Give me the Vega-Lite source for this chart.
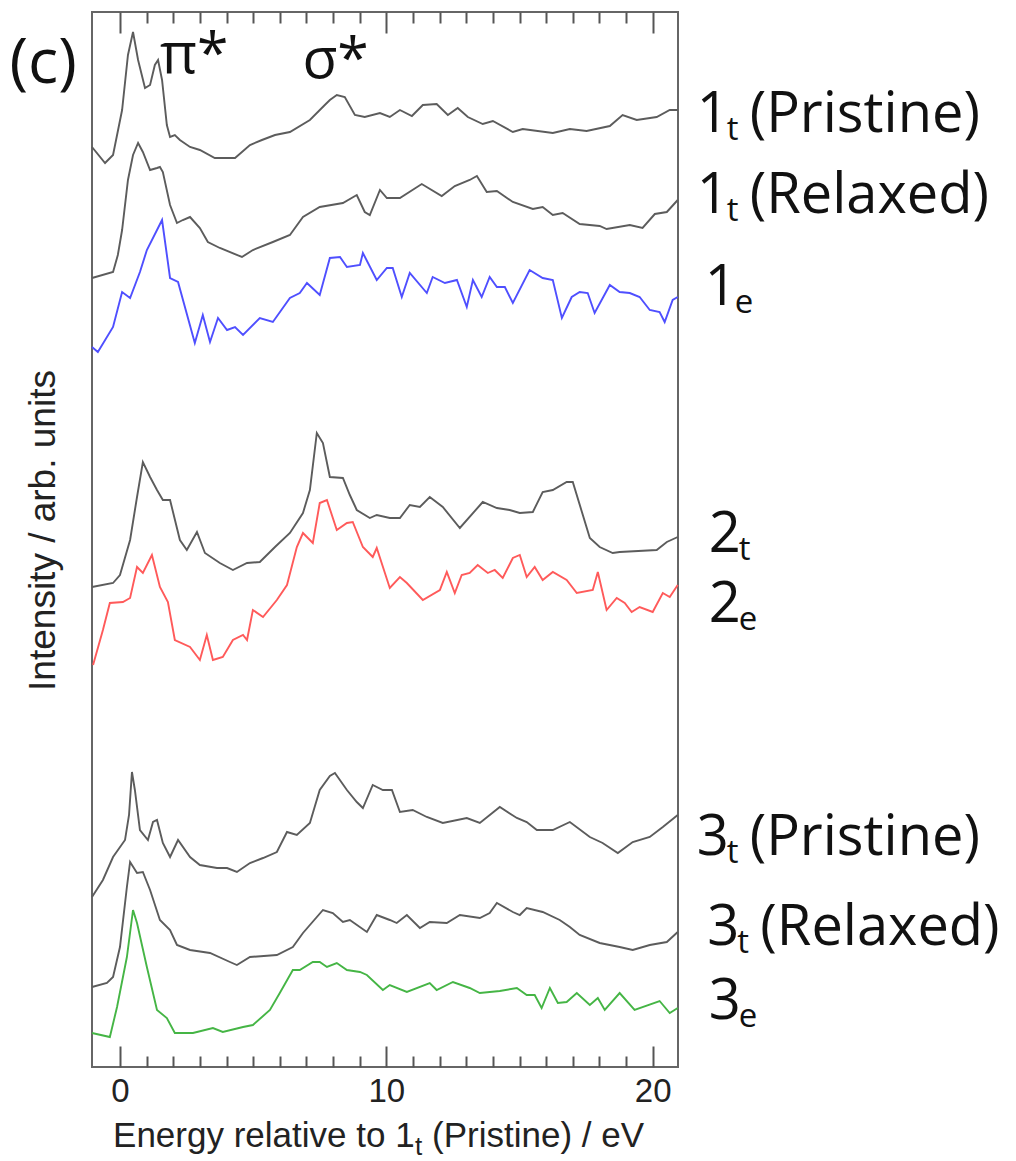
{
  "$schema": "https://vega.github.io/schema/vega-lite/v6.json",
  "width": 586,
  "height": 1055,
  "autosize": "none",
  "padding": {"left": 92, "top": 12, "right": 338, "bottom": 94},
  "background": "white",
  "config": {"view": {"stroke": "#666666", "strokeWidth": 2}, "font": "Liberation Sans"},
  "datasets": {
    "spectra": [
      {"s":"a","E":-1.05,"I":920},{"s":"a","E":-0.56,"I":904},{"s":"a","E":-0.26,"I":912},{"s":"a","E":0.08,"I":957},{"s":"a","E":0.30,"I":1012},{"s":"a","E":0.49,"I":1035},{"s":"a","E":0.68,"I":1007},{"s":"a","E":0.94,"I":979},{"s":"a","E":1.13,"I":982},{"s":"a","E":1.31,"I":1002},{"s":"a","E":1.43,"I":1007},{"s":"a","E":1.58,"I":987},{"s":"a","E":1.76,"I":942},{"s":"a","E":1.88,"I":930},{"s":"a","E":2.06,"I":932},{"s":"a","E":2.25,"I":927},{"s":"a","E":2.63,"I":920},{"s":"a","E":3.00,"I":917},{"s":"a","E":3.56,"I":909},{"s":"a","E":4.32,"I":909},{"s":"a","E":4.88,"I":922},{"s":"a","E":5.33,"I":927},{"s":"a","E":5.82,"I":932},{"s":"a","E":6.38,"I":935},{"s":"a","E":7.13,"I":947},{"s":"a","E":7.69,"I":962},{"s":"a","E":7.88,"I":967},{"s":"a","E":8.14,"I":972},{"s":"a","E":8.44,"I":970},{"s":"a","E":8.82,"I":952},{"s":"a","E":9.19,"I":950},{"s":"a","E":9.76,"I":954},{"s":"a","E":10.13,"I":950},{"s":"a","E":10.51,"I":957},{"s":"a","E":10.96,"I":951},{"s":"a","E":11.37,"I":962},{"s":"a","E":11.89,"I":963},{"s":"a","E":12.31,"I":952},{"s":"a","E":12.68,"I":959},{"s":"a","E":13.06,"I":950},{"s":"a","E":13.62,"I":943},{"s":"a","E":14.00,"I":946},{"s":"a","E":14.75,"I":935},{"s":"a","E":15.12,"I":938},{"s":"a","E":16.25,"I":934},{"s":"a","E":16.89,"I":938},{"s":"a","E":17.52,"I":936},{"s":"a","E":18.39,"I":941},{"s":"a","E":18.87,"I":952},{"s":"a","E":19.40,"I":947},{"s":"a","E":20.15,"I":950},{"s":"a","E":20.64,"I":957},{"s":"a","E":20.94,"I":957},
      {"s":"b","E":-1.05,"I":789},{"s":"b","E":-0.26,"I":795},{"s":"b","E":-0.08,"I":812},{"s":"b","E":0.08,"I":837},{"s":"b","E":0.30,"I":887},{"s":"b","E":0.49,"I":912},{"s":"b","E":0.68,"I":924},{"s":"b","E":0.86,"I":915},{"s":"b","E":1.13,"I":897},{"s":"b","E":1.39,"I":899},{"s":"b","E":1.50,"I":900},{"s":"b","E":1.61,"I":895},{"s":"b","E":1.88,"I":862},{"s":"b","E":2.14,"I":844},{"s":"b","E":2.36,"I":847},{"s":"b","E":2.63,"I":850},{"s":"b","E":3.00,"I":839},{"s":"b","E":3.30,"I":825},{"s":"b","E":3.75,"I":819},{"s":"b","E":4.58,"I":810},{"s":"b","E":4.99,"I":817},{"s":"b","E":5.74,"I":825},{"s":"b","E":6.38,"I":832},{"s":"b","E":6.87,"I":850},{"s":"b","E":7.50,"I":860},{"s":"b","E":8.37,"I":864},{"s":"b","E":8.89,"I":872},{"s":"b","E":9.19,"I":855},{"s":"b","E":9.38,"I":852},{"s":"b","E":9.76,"I":877},{"s":"b","E":10.02,"I":869},{"s":"b","E":10.51,"I":869},{"s":"b","E":11.33,"I":883},{"s":"b","E":12.08,"I":871},{"s":"b","E":12.57,"I":881},{"s":"b","E":13.13,"I":887},{"s":"b","E":13.40,"I":891},{"s":"b","E":13.77,"I":875},{"s":"b","E":14.15,"I":876},{"s":"b","E":14.75,"I":865},{"s":"b","E":15.50,"I":858},{"s":"b","E":15.87,"I":860},{"s":"b","E":16.25,"I":852},{"s":"b","E":16.62,"I":854},{"s":"b","E":17.26,"I":843},{"s":"b","E":18.01,"I":841},{"s":"b","E":18.27,"I":838},{"s":"b","E":19.14,"I":842},{"s":"b","E":19.62,"I":839},{"s":"b","E":20.08,"I":853},{"s":"b","E":20.53,"I":855},{"s":"b","E":20.94,"I":867},
      {"s":"c","E":-1.05,"I":720},{"s":"c","E":-0.83,"I":715},{"s":"c","E":-0.26,"I":740},{"s":"c","E":0.08,"I":775},{"s":"c","E":0.38,"I":769},{"s":"c","E":0.75,"I":795},{"s":"c","E":1.01,"I":817},{"s":"c","E":1.58,"I":847},{"s":"c","E":1.88,"I":789},{"s":"c","E":2.18,"I":785},{"s":"c","E":2.81,"I":724},{"s":"c","E":3.11,"I":752},{"s":"c","E":3.38,"I":725},{"s":"c","E":3.68,"I":749},{"s":"c","E":4.02,"I":737},{"s":"c","E":4.32,"I":740},{"s":"c","E":4.62,"I":732},{"s":"c","E":5.25,"I":749},{"s":"c","E":5.74,"I":745},{"s":"c","E":6.38,"I":769},{"s":"c","E":6.75,"I":774},{"s":"c","E":7.02,"I":784},{"s":"c","E":7.50,"I":772},{"s":"c","E":7.88,"I":809},{"s":"c","E":8.26,"I":810},{"s":"c","E":8.52,"I":800},{"s":"c","E":9.01,"I":802},{"s":"c","E":9.12,"I":814},{"s":"c","E":9.64,"I":787},{"s":"c","E":10.02,"I":799},{"s":"c","E":10.24,"I":799},{"s":"c","E":10.58,"I":770},{"s":"c","E":10.88,"I":794},{"s":"c","E":11.52,"I":774},{"s":"c","E":11.74,"I":790},{"s":"c","E":12.20,"I":784},{"s":"c","E":12.65,"I":787},{"s":"c","E":13.02,"I":760},{"s":"c","E":13.25,"I":787},{"s":"c","E":13.58,"I":770},{"s":"c","E":13.88,"I":790},{"s":"c","E":14.15,"I":780},{"s":"c","E":14.45,"I":780},{"s":"c","E":14.75,"I":764},{"s":"c","E":15.38,"I":797},{"s":"c","E":15.87,"I":789},{"s":"c","E":16.25,"I":787},{"s":"c","E":16.59,"I":749},{"s":"c","E":16.96,"I":770},{"s":"c","E":17.26,"I":775},{"s":"c","E":17.56,"I":774},{"s":"c","E":17.82,"I":754},{"s":"c","E":18.39,"I":782},{"s":"c","E":18.76,"I":775},{"s":"c","E":19.14,"I":774},{"s":"c","E":19.51,"I":770},{"s":"c","E":19.89,"I":757},{"s":"c","E":20.26,"I":755},{"s":"c","E":20.45,"I":745},{"s":"c","E":20.75,"I":767},{"s":"c","E":20.94,"I":770},
      {"s":"d","E":-1.05,"I":480},{"s":"d","E":-0.26,"I":484},{"s":"d","E":0,"I":492},{"s":"d","E":0.38,"I":527},{"s":"d","E":0.64,"I":570},{"s":"d","E":0.86,"I":605},{"s":"d","E":1.13,"I":590},{"s":"d","E":1.39,"I":577},{"s":"d","E":1.61,"I":567},{"s":"d","E":1.88,"I":567},{"s":"d","E":2.25,"I":527},{"s":"d","E":2.51,"I":517},{"s":"d","E":2.89,"I":535},{"s":"d","E":3.19,"I":514},{"s":"d","E":3.75,"I":504},{"s":"d","E":4.24,"I":497},{"s":"d","E":4.77,"I":504},{"s":"d","E":5.25,"I":505},{"s":"d","E":5.82,"I":520},{"s":"d","E":6.38,"I":534},{"s":"d","E":6.87,"I":554},{"s":"d","E":7.13,"I":577},{"s":"d","E":7.39,"I":634},{"s":"d","E":7.62,"I":624},{"s":"d","E":7.88,"I":590},{"s":"d","E":8.37,"I":589},{"s":"d","E":8.63,"I":572},{"s":"d","E":8.89,"I":557},{"s":"d","E":9.38,"I":549},{"s":"d","E":9.64,"I":552},{"s":"d","E":10.13,"I":549},{"s":"d","E":10.51,"I":549},{"s":"d","E":10.88,"I":562},{"s":"d","E":11.26,"I":560},{"s":"d","E":11.63,"I":570},{"s":"d","E":12.12,"I":560},{"s":"d","E":12.76,"I":539},{"s":"d","E":13.62,"I":565},{"s":"d","E":14.15,"I":559},{"s":"d","E":14.63,"I":557},{"s":"d","E":15.01,"I":554},{"s":"d","E":15.50,"I":555},{"s":"d","E":15.87,"I":575},{"s":"d","E":16.25,"I":577},{"s":"d","E":16.77,"I":585},{"s":"d","E":17.00,"I":585},{"s":"d","E":17.64,"I":529},{"s":"d","E":18.01,"I":520},{"s":"d","E":18.50,"I":514},{"s":"d","E":18.76,"I":515},{"s":"d","E":20.15,"I":517},{"s":"d","E":20.53,"I":525},{"s":"d","E":20.94,"I":530},
      {"s":"e","E":-1.01,"I":402},{"s":"e","E":-0.64,"I":437},{"s":"e","E":-0.38,"I":464},{"s":"e","E":0.11,"I":465},{"s":"e","E":0.38,"I":469},{"s":"e","E":0.64,"I":500},{"s":"e","E":0.86,"I":494},{"s":"e","E":1.20,"I":512},{"s":"e","E":1.50,"I":480},{"s":"e","E":1.80,"I":465},{"s":"e","E":2.06,"I":427},{"s":"e","E":2.63,"I":420},{"s":"e","E":3.00,"I":407},{"s":"e","E":3.26,"I":432},{"s":"e","E":3.49,"I":407},{"s":"e","E":3.86,"I":410},{"s":"e","E":4.24,"I":427},{"s":"e","E":4.62,"I":432},{"s":"e","E":4.77,"I":427},{"s":"e","E":4.99,"I":457},{"s":"e","E":5.37,"I":450},{"s":"e","E":5.89,"I":467},{"s":"e","E":6.27,"I":482},{"s":"e","E":6.64,"I":520},{"s":"e","E":6.87,"I":534},{"s":"e","E":7.24,"I":524},{"s":"e","E":7.50,"I":564},{"s":"e","E":7.77,"I":567},{"s":"e","E":8.14,"I":537},{"s":"e","E":8.52,"I":544},{"s":"e","E":8.74,"I":545},{"s":"e","E":9.12,"I":520},{"s":"e","E":9.49,"I":510},{"s":"e","E":9.64,"I":519},{"s":"e","E":10.13,"I":479},{"s":"e","E":10.51,"I":490},{"s":"e","E":10.77,"I":484},{"s":"e","E":11.37,"I":467},{"s":"e","E":12.01,"I":477},{"s":"e","E":12.27,"I":495},{"s":"e","E":12.57,"I":474},{"s":"e","E":12.83,"I":492},{"s":"e","E":13.13,"I":494},{"s":"e","E":13.43,"I":502},{"s":"e","E":13.81,"I":494},{"s":"e","E":14.07,"I":497},{"s":"e","E":14.37,"I":489},{"s":"e","E":14.75,"I":509},{"s":"e","E":15.01,"I":512},{"s":"e","E":15.27,"I":490},{"s":"e","E":15.57,"I":500},{"s":"e","E":15.87,"I":487},{"s":"e","E":16.25,"I":495},{"s":"e","E":16.77,"I":487},{"s":"e","E":17.15,"I":474},{"s":"e","E":17.75,"I":477},{"s":"e","E":17.94,"I":495},{"s":"e","E":18.27,"I":457},{"s":"e","E":18.65,"I":469},{"s":"e","E":18.95,"I":464},{"s":"e","E":19.21,"I":455},{"s":"e","E":19.51,"I":460},{"s":"e","E":20.00,"I":455},{"s":"e","E":20.38,"I":474},{"s":"e","E":20.64,"I":470},{"s":"e","E":20.94,"I":482},
      {"s":"f","E":-1.05,"I":170},{"s":"f","E":-0.64,"I":187},{"s":"f","E":-0.26,"I":210},{"s":"f","E":0.19,"I":227},{"s":"f","E":0.34,"I":252},{"s":"f","E":0.45,"I":295},{"s":"f","E":0.56,"I":277},{"s":"f","E":0.75,"I":237},{"s":"f","E":1.05,"I":227},{"s":"f","E":1.24,"I":245},{"s":"f","E":1.39,"I":247},{"s":"f","E":1.61,"I":224},{"s":"f","E":1.88,"I":210},{"s":"f","E":2.18,"I":227},{"s":"f","E":2.63,"I":210},{"s":"f","E":3.00,"I":202},{"s":"f","E":3.64,"I":199},{"s":"f","E":4.02,"I":199},{"s":"f","E":4.39,"I":195},{"s":"f","E":4.88,"I":204},{"s":"f","E":5.37,"I":209},{"s":"f","E":5.89,"I":215},{"s":"f","E":6.27,"I":235},{"s":"f","E":6.64,"I":232},{"s":"f","E":7.13,"I":244},{"s":"f","E":7.50,"I":277},{"s":"f","E":7.88,"I":291},{"s":"f","E":8.07,"I":294},{"s":"f","E":8.52,"I":277},{"s":"f","E":8.89,"I":265},{"s":"f","E":9.12,"I":259},{"s":"f","E":9.49,"I":282},{"s":"f","E":9.87,"I":277},{"s":"f","E":10.21,"I":277},{"s":"f","E":10.51,"I":255},{"s":"f","E":10.99,"I":257},{"s":"f","E":11.52,"I":250},{"s":"f","E":12.12,"I":244},{"s":"f","E":13.02,"I":249},{"s":"f","E":13.51,"I":244},{"s":"f","E":14.26,"I":260},{"s":"f","E":14.90,"I":249},{"s":"f","E":15.27,"I":245},{"s":"f","E":15.65,"I":237},{"s":"f","E":16.25,"I":237},{"s":"f","E":16.89,"I":245},{"s":"f","E":17.64,"I":230},{"s":"f","E":18.12,"I":224},{"s":"f","E":18.69,"I":214},{"s":"f","E":19.25,"I":225},{"s":"f","E":19.89,"I":230},{"s":"f","E":20.38,"I":240},{"s":"f","E":20.94,"I":252},
      {"s":"g","E":-1.05,"I":80},{"s":"g","E":-0.49,"I":84},{"s":"g","E":-0.26,"I":90},{"s":"g","E":0,"I":120},{"s":"g","E":0.26,"I":180},{"s":"g","E":0.38,"I":205},{"s":"g","E":0.64,"I":194},{"s":"g","E":0.86,"I":195},{"s":"g","E":1.13,"I":177},{"s":"g","E":1.50,"I":147},{"s":"g","E":1.88,"I":137},{"s":"g","E":2.14,"I":122},{"s":"g","E":2.63,"I":117},{"s":"g","E":3.38,"I":114},{"s":"g","E":4.13,"I":105},{"s":"g","E":4.39,"I":102},{"s":"g","E":4.88,"I":110},{"s":"g","E":5.89,"I":112},{"s":"g","E":6.49,"I":120},{"s":"g","E":6.87,"I":134},{"s":"g","E":7.62,"I":157},{"s":"g","E":7.99,"I":154},{"s":"g","E":8.37,"I":145},{"s":"g","E":8.63,"I":147},{"s":"g","E":9.27,"I":135},{"s":"g","E":9.64,"I":152},{"s":"g","E":10.13,"I":147},{"s":"g","E":10.39,"I":144},{"s":"g","E":10.77,"I":152},{"s":"g","E":11.26,"I":139},{"s":"g","E":11.63,"I":145},{"s":"g","E":12.27,"I":144},{"s":"g","E":12.76,"I":152},{"s":"g","E":13.51,"I":149},{"s":"g","E":13.88,"I":154},{"s":"g","E":14.15,"I":164},{"s":"g","E":14.75,"I":155},{"s":"g","E":15.01,"I":152},{"s":"g","E":15.27,"I":159},{"s":"g","E":15.87,"I":155},{"s":"g","E":16.51,"I":147},{"s":"g","E":16.89,"I":140},{"s":"g","E":17.26,"I":132},{"s":"g","E":18.01,"I":124},{"s":"g","E":18.76,"I":120},{"s":"g","E":19.25,"I":117},{"s":"g","E":19.89,"I":122},{"s":"g","E":20.53,"I":125},{"s":"g","E":20.94,"I":135},
      {"s":"h","E":-1.05,"I":34},{"s":"h","E":-0.38,"I":30},{"s":"h","E":-0.11,"I":60},{"s":"h","E":0.26,"I":110},{"s":"h","E":0.49,"I":157},{"s":"h","E":0.64,"I":144},{"s":"h","E":1.01,"I":100},{"s":"h","E":1.39,"I":57},{"s":"h","E":1.76,"I":49},{"s":"h","E":2.06,"I":34},{"s":"h","E":2.74,"I":34},{"s":"h","E":3.49,"I":39},{"s":"h","E":3.86,"I":35},{"s":"h","E":4.62,"I":40},{"s":"h","E":4.99,"I":42},{"s":"h","E":5.63,"I":57},{"s":"h","E":6.00,"I":74},{"s":"h","E":6.49,"I":97},{"s":"h","E":6.75,"I":97},{"s":"h","E":7.24,"I":105},{"s":"h","E":7.50,"I":105},{"s":"h","E":7.77,"I":100},{"s":"h","E":8.14,"I":104},{"s":"h","E":8.52,"I":97},{"s":"h","E":9.01,"I":95},{"s":"h","E":9.27,"I":92},{"s":"h","E":9.87,"I":77},{"s":"h","E":10.13,"I":82},{"s":"h","E":10.77,"I":75},{"s":"h","E":11.63,"I":84},{"s":"h","E":11.89,"I":77},{"s":"h","E":12.50,"I":85},{"s":"h","E":13.13,"I":79},{"s":"h","E":13.51,"I":74},{"s":"h","E":14.26,"I":76},{"s":"h","E":14.90,"I":79},{"s":"h","E":15.27,"I":72},{"s":"h","E":15.57,"I":72},{"s":"h","E":15.83,"I":59},{"s":"h","E":16.14,"I":79},{"s":"h","E":16.44,"I":64},{"s":"h","E":16.77,"I":65},{"s":"h","E":17.15,"I":74},{"s":"h","E":17.64,"I":62},{"s":"h","E":17.94,"I":69},{"s":"h","E":18.20,"I":57},{"s":"h","E":18.76,"I":74},{"s":"h","E":19.32,"I":57},{"s":"h","E":20.26,"I":66},{"s":"h","E":20.64,"I":54},{"s":"h","E":20.94,"I":59}
    ],
    "labels": [
      {"n":"1","sub":"t","rest":"(Pristine)","E":21.65,"I":935},
      {"n":"1","sub":"t","rest":"(Relaxed)","E":21.65,"I":854},
      {"n":"1","sub":"e","rest":"","E":21.95,"I":762},
      {"n":"2","sub":"t","rest":"","E":22.1,"I":515},
      {"n":"2","sub":"e","rest":"","E":22.1,"I":445},
      {"n":"3","sub":"t","rest":"(Pristine)","E":21.65,"I":212},
      {"n":"3","sub":"t","rest":"(Relaxed)","E":22.05,"I":122},
      {"n":"3","sub":"e","rest":"","E":22.1,"I":48}
    ],
    "xtitle": [
      {"a":"Energy relative to 1","b":"t","c":"(Pristine) / eV","E":-0.26,"I":-80}
    ],
    "peaks": [
      {"t":"π*","E":1.5,"I":994},
      {"t":"σ*","E":6.85,"I":989}
    ],
    "panel": [
      {"t":"(c)","E":-4.15,"I":984}
    ]
  },
  "resolve": {"axis": {"x": "independent", "y": "independent"}},
  "layer": [
    {
      "data": {"name": "spectra"},
      "mark": {"type": "line", "strokeWidth": 1.9},
      "encoding": {
        "x": {"field": "E", "type": "quantitative", "scale": {"domain": [-1.05, 20.95], "nice": false, "zero": false},
          "axis": {"orient": "bottom", "values": [0, 10, 20], "ticks": false, "domain": false, "grid": false,
            "labelFont": "Liberation Sans", "labelFontSize": 33, "labelColor": "#222222", "labelPadding": 8,
            "title": null}},
        "y": {"field": "I", "type": "quantitative", "scale": {"domain": [0, 1055], "nice": false, "zero": false},
          "axis": {"ticks": false, "labels": false, "domain": false, "grid": false, "title": "Intensity / arb. units",
            "titleFont": "Liberation Sans", "titleFontSize": 37, "titleFontWeight": "normal", "titleColor": "#222222", "titlePadding": 30, "titleY": 518}},
        "color": {"field": "s", "type": "nominal",
          "scale": {"domain": ["a","b","c","d","e","f","g","h"], "range": ["#5c5c5c","#5c5c5c","#4f4fff","#5c5c5c","#ff5a5a","#5c5c5c","#5c5c5c","#45b545"]},
          "legend": null}
      }
    },
    {
      "data": {"name": "spectra"},
      "mark": {"type": "point", "opacity": 0},
      "encoding": {
        "x": {"field": "E", "type": "quantitative", "scale": {"domain": [-1.05, 20.95], "nice": false, "zero": false},
          "axis": {"orient": "bottom", "values": [0,1,2,3,4,5,6,7,8,9,10,11,12,13,14,15,16,17,18,19,20], "labels": false, "domain": false, "grid": false, "title": null,
            "tickColor": "#555555", "tickWidth": 2,
            "tickSize": {"condition": {"test": "datum.value % 10 === 0", "value": -21}, "value": -11}}}
      }
    },
    {
      "data": {"name": "spectra"},
      "mark": {"type": "point", "opacity": 0},
      "encoding": {
        "x": {"field": "E", "type": "quantitative", "scale": {"domain": [-1.05, 20.95], "nice": false, "zero": false},
          "axis": {"orient": "top", "values": [0,1,2,3,4,5,6,7,8,9,10,11,12,13,14,15,16,17,18,19,20], "labels": false, "domain": false, "grid": false, "title": null,
            "tickColor": "#555555", "tickWidth": 2,
            "tickSize": {"condition": {"test": "datum.value % 10 === 0", "value": -21}, "value": -11}}}
      }
    },
    {
      "data": {"name": "labels"},
      "mark": {"type": "text", "align": "left", "baseline": "alphabetic", "font": "Open Sans", "fontSize": 56, "color": "#111111"},
      "encoding": {
        "x": {"field": "E", "type": "quantitative", "scale": {"domain": [-1.05, 20.95], "nice": false, "zero": false}, "axis": null},
        "y": {"field": "I", "type": "quantitative", "scale": {"domain": [0, 1055], "nice": false, "zero": false}, "axis": null},
        "text": {"field": "n"}
      }
    },
    {
      "data": {"name": "labels"},
      "mark": {"type": "text", "align": "left", "baseline": "alphabetic", "font": "Open Sans", "fontSize": 33, "color": "#111111", "dx": 30, "dy": 8},
      "encoding": {
        "x": {"field": "E", "type": "quantitative", "scale": {"domain": [-1.05, 20.95], "nice": false, "zero": false}, "axis": null},
        "y": {"field": "I", "type": "quantitative", "scale": {"domain": [0, 1055], "nice": false, "zero": false}, "axis": null},
        "text": {"field": "sub"}
      }
    },
    {
      "data": {"name": "labels"},
      "mark": {"type": "text", "align": "left", "baseline": "alphabetic", "font": "Open Sans", "fontSize": 56, "color": "#111111", "dx": 53},
      "encoding": {
        "x": {"field": "E", "type": "quantitative", "scale": {"domain": [-1.05, 20.95], "nice": false, "zero": false}, "axis": null},
        "y": {"field": "I", "type": "quantitative", "scale": {"domain": [0, 1055], "nice": false, "zero": false}, "axis": null},
        "text": {"field": "rest"}
      }
    },
    {
      "data": {"name": "xtitle"},
      "mark": {"type": "text", "align": "left", "baseline": "alphabetic", "font": "Liberation Sans", "fontSize": 35, "color": "#222222"},
      "encoding": {
        "x": {"field": "E", "type": "quantitative", "scale": {"domain": [-1.05, 20.95], "nice": false, "zero": false}, "axis": null},
        "y": {"field": "I", "type": "quantitative", "scale": {"domain": [0, 1055], "nice": false, "zero": false}, "axis": null},
        "text": {"field": "a"}
      }
    },
    {
      "data": {"name": "xtitle"},
      "mark": {"type": "text", "align": "left", "baseline": "alphabetic", "font": "Liberation Sans", "fontSize": 26, "color": "#222222", "dx": 302, "dy": 8},
      "encoding": {
        "x": {"field": "E", "type": "quantitative", "scale": {"domain": [-1.05, 20.95], "nice": false, "zero": false}, "axis": null},
        "y": {"field": "I", "type": "quantitative", "scale": {"domain": [0, 1055], "nice": false, "zero": false}, "axis": null},
        "text": {"field": "b"}
      }
    },
    {
      "data": {"name": "xtitle"},
      "mark": {"type": "text", "align": "left", "baseline": "alphabetic", "font": "Liberation Sans", "fontSize": 35, "color": "#222222", "dx": 319},
      "encoding": {
        "x": {"field": "E", "type": "quantitative", "scale": {"domain": [-1.05, 20.95], "nice": false, "zero": false}, "axis": null},
        "y": {"field": "I", "type": "quantitative", "scale": {"domain": [0, 1055], "nice": false, "zero": false}, "axis": null},
        "text": {"field": "c"}
      }
    },
    {
      "data": {"name": "peaks"},
      "mark": {"type": "text", "align": "left", "baseline": "alphabetic", "font": "Open Sans", "fontSize": 57, "color": "#111111"},
      "encoding": {
        "x": {"field": "E", "type": "quantitative", "scale": {"domain": [-1.05, 20.95], "nice": false, "zero": false}, "axis": null},
        "y": {"field": "I", "type": "quantitative", "scale": {"domain": [0, 1055], "nice": false, "zero": false}, "axis": null},
        "text": {"field": "t"}
      }
    },
    {
      "data": {"name": "panel"},
      "mark": {"type": "text", "align": "left", "baseline": "alphabetic", "font": "Open Sans", "fontSize": 63, "color": "#111111"},
      "encoding": {
        "x": {"field": "E", "type": "quantitative", "scale": {"domain": [-1.05, 20.95], "nice": false, "zero": false}, "axis": null},
        "y": {"field": "I", "type": "quantitative", "scale": {"domain": [0, 1055], "nice": false, "zero": false}, "axis": null},
        "text": {"field": "t"}
      }
    }
  ]
}
